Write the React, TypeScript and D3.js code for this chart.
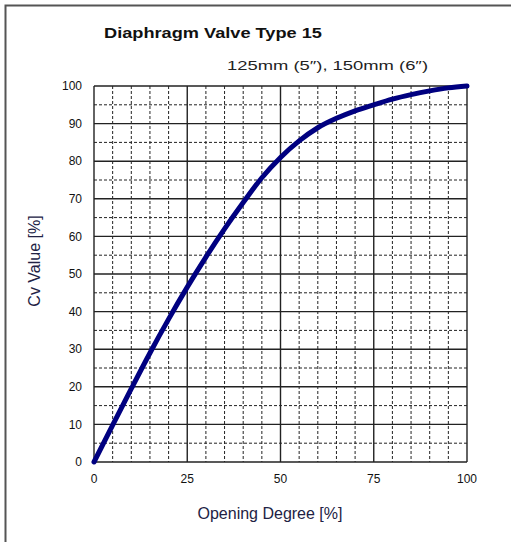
import React from "react";
import * as d3 from "d3";

const opening = [0, 5, 10, 15, 20, 25, 30, 35, 40, 45, 50, 55, 60, 65, 70, 75, 80, 85, 90, 95, 100];
const cvValue = [0, 9.8, 19.5, 29, 38, 46.5, 54.5, 62, 69, 75.6, 81, 85.4, 88.9, 91.4, 93.4, 95, 96.5, 97.7, 98.7, 99.5, 100];
const xTicks = [0, 25, 50, 75, 100];
const yTicks = [0, 10, 20, 30, 40, 50, 60, 70, 80, 90, 100];
const title = "Diaphragm Valve Type 15";
const subtitle = "125mm (5\u2033), 150mm (6\u2033)";
const xLabel = "Opening Degree [%]";
const yLabel = "Cv Value [%]";

export default function App() {
  const W = 511, H = 542;
  const left = 94, right = 467, top = 86, bottom = 462;
  const x = d3.scaleLinear().domain([0, 100]).range([left, right]);
  const y = d3.scaleLinear().domain([0, 100]).range([bottom, top]);
  const xMinor = d3.range(0, 101, 5).filter((v) => v % 25 !== 0);
  const yMinor = d3.range(5, 100, 10);
  const line = d3
    .line<number>()
    .x((_, i) => x(opening[i]))
    .y((d) => y(d))
    .curve(d3.curveMonotoneX);
  const font = "'Liberation Sans', Arial, sans-serif";
  return (
    <svg width={W} height={H} style={{ position: "absolute", left: 0, top: 0 }} fontFamily={font}>
      <rect x={0} y={0} width={W} height={H} fill="#fff" />
      <rect x={5.5} y={5.5} width={W + 20} height={H + 20} fill="none" stroke="#555" strokeWidth={2} />
      <text x={104} y={38} fontSize={15} fontWeight="bold" fill="#111" textLength={218} lengthAdjust="spacingAndGlyphs">
        {title}
      </text>
      <text x={227} y={70} fontSize={13} fill="#222" textLength={201} lengthAdjust="spacingAndGlyphs">
        {subtitle}
      </text>
      {xMinor.map((v) => (
        <line key={"xm" + v} x1={x(v)} x2={x(v)} y1={top} y2={bottom} stroke="#222" strokeWidth={1} strokeDasharray="3,2" />
      ))}
      {yMinor.map((v) => (
        <line key={"ym" + v} x1={left} x2={right} y1={y(v)} y2={y(v)} stroke="#222" strokeWidth={1} strokeDasharray="3,2" />
      ))}
      {xTicks.map((v) => (
        <line key={"xt" + v} x1={x(v)} x2={x(v)} y1={top} y2={bottom} stroke="#222" strokeWidth={1.4} />
      ))}
      {yTicks.map((v) => (
        <line key={"yt" + v} x1={left} x2={right} y1={y(v)} y2={y(v)} stroke="#222" strokeWidth={1.4} />
      ))}
      <path d={line(cvValue) || ""} fill="none" stroke="#000080" strokeWidth={5} strokeLinecap="round" strokeLinejoin="round" />
      {yTicks.map((v) => (
        <text key={"yl" + v} x={82} y={y(v)} dy="0.35em" fontSize={12} textAnchor="end" fill="#111">
          {v}
        </text>
      ))}
      {xTicks.map((v) => (
        <text key={"xl" + v} x={x(v)} y={479} dy="0.35em" fontSize={12} textAnchor="middle" fill="#111">
          {v}
        </text>
      ))}
      <text x={270} y={513} dy="0.35em" fontSize={16} textAnchor="middle" fill="#222244">
        {xLabel}
      </text>
      <text transform="translate(34,261) rotate(-90)" dy="0.35em" fontSize={16} textAnchor="middle" fill="#222244">
        {yLabel}
      </text>
    </svg>
  );
}
